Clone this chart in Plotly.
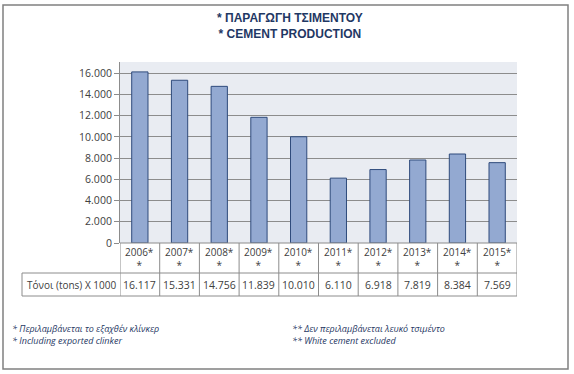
import plotly.graph_objects as go

years = ["2006", "2007", "2008", "2009", "2010", "2011", "2012", "2013", "2014", "2015"]
categories = [y + "*" for y in years]
values = [16117, 15331, 14756, 11839, 10010, 6110, 6918, 7819, 8384, 7569]
value_labels = ["16.117", "15.331", "14.756", "11.839", "10.010", "6.110", "6.918", "7.819", "8.384", "7.569"]
tick_vals = [0, 2000, 4000, 6000, 8000, 10000, 12000, 14000, 16000]
tick_text = ["0", "2.000", "4.000", "6.000", "8.000", "10.000", "12.000", "14.000", "16.000"]
row_label = "Τόνοι (tons) X 1000"
title_lines = ["* ΠΑΡΑΓΩΓΗ ΤΣΙΜΕΝΤΟΥ", "* CEMENT PRODUCTION"]
notes_left = ["* Περιλαμβάνεται το εξαχθέν κλίνκερ", "* Including exported clinker"]
notes_right = ["** Δεν περιλαμβάνεται λευκό τσιμέντο", "** White cement excluded"]

W, H = 574, 374
L, R, T, B = 120, 517, 62, 243  # plot area pixel bounds

def px(x):
    return (x - L) / (R - L)

def py(y):
    return (B - y) / (B - T)

NAVY = "#1f3864"
GRID = "#8c8c8c"
TXT = "#404040"

fig = go.Figure()
fig.add_trace(go.Bar(
    x=categories, y=values,
    marker=dict(color="#93a9d1", line=dict(color="#2f4b7c", width=1)),
    width=0.41,
))

shapes = []
# outer frame
shapes.append(dict(type="rect", xref="paper", yref="paper",
                   x0=px(3), x1=px(568), y0=py(5), y1=py(369),
                   line=dict(color="#808080", width=1.5), layer="below"))
# table horizontal lines
for yy in [273, 296]:
    shapes.append(dict(type="line", xref="paper", yref="paper",
                       x0=px(22), x1=px(R), y0=py(yy), y1=py(yy),
                       line=dict(color=GRID, width=1)))
shapes.append(dict(type="line", xref="paper", yref="paper",
                   x0=px(L), x1=px(R), y0=py(B), y1=py(B),
                   line=dict(color=GRID, width=1)))
# label cell left edge
shapes.append(dict(type="line", xref="paper", yref="paper",
                   x0=px(22), x1=px(22), y0=py(273), y1=py(296),
                   line=dict(color=GRID, width=1)))
# vertical separators at category boundaries
for i in range(len(categories) + 1):
    shapes.append(dict(type="line", xref="x", yref="paper",
                       x0=i - 0.5, x1=i - 0.5, y0=py(B), y1=py(296),
                       line=dict(color=GRID, width=1)))

annotations = []
for i, (c, v) in enumerate(zip(categories, value_labels)):
    annotations.append(dict(x=c, xref="x", y=py(258), yref="paper",
                            text=c + "<br>*", showarrow=False,
                            font=dict(family="Open Sans", size=10, color=TXT),
                            xanchor="center", yanchor="middle"))
    annotations.append(dict(x=c, xref="x", y=py(285), yref="paper",
                            text=v, showarrow=False,
                            font=dict(family="Open Sans", size=10.5, color=TXT),
                            xanchor="center", yanchor="middle"))
annotations.append(dict(x=px(71), xref="paper", y=py(285), yref="paper",
                        text=row_label, showarrow=False,
                        font=dict(family="Open Sans", size=10, color=TXT),
                        xanchor="center", yanchor="middle"))
annotations.append(dict(x=px(290), xref="paper", y=py(26), yref="paper",
                        text="<b>" + title_lines[0] + "</b><br><b>" + title_lines[1] + "</b>",
                        showarrow=False,
                        font=dict(family="Liberation Sans", size=12, color=NAVY),
                        xanchor="center", yanchor="middle"))
annotations.append(dict(x=px(10), xref="paper", y=py(334), yref="paper",
                        text="<i>" + notes_left[0] + "<br>" + notes_left[1] + "</i>",
                        showarrow=False, align="left",
                        font=dict(family="Open Sans", size=9, color=NAVY),
                        xanchor="left", yanchor="middle"))
annotations.append(dict(x=px(290), xref="paper", y=py(334), yref="paper",
                        text="<i>" + notes_right[0] + "<br>" + notes_right[1] + "</i>",
                        showarrow=False, align="left",
                        font=dict(family="Open Sans", size=9, color=NAVY),
                        xanchor="left", yanchor="middle"))

fig.update_layout(
    width=W, height=H,
    margin=dict(l=L, r=W - R, t=T, b=H - B, pad=0),
    paper_bgcolor="white",
    plot_bgcolor="#e9ecf2",
    showlegend=False,
    shapes=shapes,
    annotations=annotations,
    xaxis=dict(showticklabels=False, showgrid=False, zeroline=False, ticks="",
               showline=False, range=[-0.5, len(categories) - 0.5]),
    yaxis=dict(range=[0, 17050], tickvals=tick_vals, ticktext=tick_text,
               showgrid=True, gridcolor=GRID, gridwidth=1,
               zeroline=False, showline=True, linecolor=GRID, linewidth=1,
               ticks="outside", ticklen=5, tickcolor=GRID,
               tickfont=dict(family="Open Sans", size=10.5, color=TXT)),
    bargap=0.58,
)

fig.write_html("out.html", config={"displayModeBar": False},
               post_script="document.body.style.margin='0px';document.body.style.overflow='hidden';")
